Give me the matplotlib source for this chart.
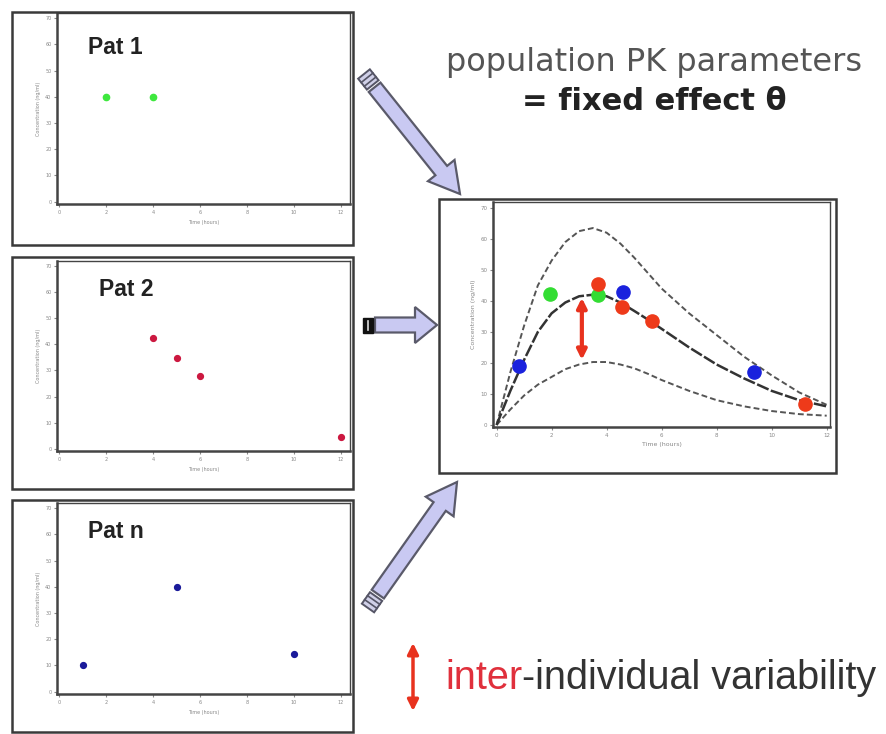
import matplotlib
matplotlib.use("Agg")
import matplotlib.pyplot as plt
from matplotlib.patches import Rectangle, FancyArrow, Polygon
import numpy as np

# ---------------- data ----------------
pat1_t = [2, 4]
pat1_c = [40, 40]
pat2_t = [4, 5, 6, 12]
pat2_c = [42.5, 34.6, 28, 4.5]
patn_t = [1, 5, 10]
patn_c = [10, 40, 14.4]

pop_green_t = [1.94, 3.67]
pop_green_c = [42.3, 42]
pop_red_t = [3.67, 4.55, 5.64, 11.2]
pop_red_c = [45.4, 38, 33.4, 6.8]
pop_blue_t = [0.8, 4.58, 9.37]
pop_blue_c = [19, 43, 17.2]

curve_t = [0, 0.5, 1, 1.5, 2, 2.5, 3, 3.5, 4, 4.5, 5, 5.5, 6, 7, 8, 9, 10, 11, 12]
curve_mean = [0, 11, 21, 30, 36, 39.5, 41.5, 42, 41.5, 39.5, 36.8, 34, 31, 25, 19.5, 15, 11, 8, 6]
curve_upper = [0, 17, 32, 45, 53, 59, 62.5, 63.5, 62, 58.5, 54, 49, 44, 36, 29, 22, 16, 10.5, 6.5]
curve_lower = [0, 5, 9.5, 13, 15.5, 18, 19.5, 20.3, 20.3, 19.5, 18.3, 16.5, 14.5, 11, 8, 6, 4.5, 3.5, 3]
iiv_t = 3.1
iiv_range = [41, 21]

x_ticks = [0, 2, 4, 6, 8, 10, 12]
y_ticks = [0, 10, 20, 30, 40, 50, 60, 70]
pat_titles = ["Pat 1", "Pat 2", "Pat n"]

# ---------------- figure ----------------
W, H = 886, 734
fig = plt.figure(figsize=(W / 100, H / 100), dpi=100)
fig.patch.set_facecolor("white")

ov = fig.add_axes([0, 0, 1, 1])
ov.set_xlim(0, W)
ov.set_ylim(H, 0)
ov.axis("off")
ov.set_zorder(10)


def ax_rect(x0, y0, x1, y1):
    return [x0 / W, 1 - y1 / H, (x1 - x0) / W, (y1 - y0) / H]


def frame(x0, y0, x1, y1):
    ov.add_patch(Rectangle((x0, y0), x1 - x0, y1 - y0, fill=False,
                           ec="#3a3a3a", lw=1.8))


def style_axes(ax, fs=3.5):
    for s in ax.spines.values():
        s.set_color("#444444")
        s.set_linewidth(1.0)
    ax.spines["left"].set_linewidth(1.8)
    ax.spines["bottom"].set_linewidth(1.8)
    ax.set_xticks(x_ticks)
    ax.set_yticks(y_ticks)
    ax.tick_params(labelsize=fs, colors="#888888", length=2, width=0.8,
                   direction="out", pad=2)


small_specs = [
    ((12, 12, 353, 245), (57, 13, 350, 204), pat1_t, pat1_c, "#3ee83e", 4.5, (88, 48)),
    ((12, 257, 353, 489), (57, 261, 350, 451), pat2_t, pat2_c, "#cc1840", 4.2, (99, 289)),
    ((12, 500, 353, 732), (57, 503, 350, 694), patn_t, patn_c, "#1a1a9a", 4.2, (88, 531)),
]

for (fr, axr, tt, cc, col, ms, tpos), title in zip(small_specs, pat_titles):
    frame(*fr)
    ax = fig.add_axes(ax_rect(*axr))
    ax.plot(tt, cc, "o", color=col, ms=ms, mec=col)
    ax.set_xlim(-0.1, 12.4)
    ax.set_ylim(-0.9, 72)
    style_axes(ax)
    ax.set_xlabel("Time (hours)", fontsize=3.5, color="#888888", labelpad=4)
    ax.set_ylabel("Concentration (ng/ml)", fontsize=3.5, color="#888888", labelpad=3)
    ov.text(tpos[0], tpos[1], title, fontsize=16.5, fontweight="bold",
            family="Liberation Sans", color="#222222", ha="left", va="center")

# main population panel
frame(439, 199, 836, 473)
axm = fig.add_axes(ax_rect(493, 202, 830, 427))
dash = (0, (3, 1.6))
axm.plot(curve_t, curve_upper, color="#555555", lw=1.4, ls=dash)
axm.plot(curve_t, curve_lower, color="#555555", lw=1.4, ls=dash)
axm.plot(curve_t, curve_mean, color="#333333", lw=1.8, ls=(0, (5, 1)))
axm.plot(pop_green_t, pop_green_c, "o", color="#33dd33", ms=9.5)
axm.plot(pop_red_t, pop_red_c, "o", color="#ee3a1a", ms=9.5)
axm.plot(pop_blue_t, pop_blue_c, "o", color="#1a22dd", ms=9.5)
axm.annotate("", xy=(iiv_t, iiv_range[0]), xytext=(iiv_t, iiv_range[1]),
             arrowprops=dict(arrowstyle="<|-|>", color="#e8321e", lw=3,
                             mutation_scale=14, shrinkA=0, shrinkB=0))
axm.set_xlim(-0.13, 12.12)
axm.set_ylim(-0.65, 71.9)
style_axes(axm, fs=4)
axm.set_xlabel("Time (hours)", fontsize=4.5, color="#888888", labelpad=3)
axm.set_ylabel("Concentration (ng/ml)", fontsize=4.5, color="#888888", labelpad=3)


# ---------------- arrows ----------------
def big_arrow(tail, tip, cap_len=14, gap=3, width=15, head_w=34, head_l=30, dark_cap=False):
    tail = np.array(tail, float)
    tip = np.array(tip, float)
    d = tip - tail
    L = np.hypot(*d)
    u = d / L
    n = np.array([-u[1], u[0]])
    start = tail + u * (cap_len + gap)
    ov.add_patch(FancyArrow(start[0], start[1], *(tip - start), width=width,
                            head_width=head_w, head_length=head_l,
                            length_includes_head=True, fc="#c9c9f2",
                            ec="#5a5a6a", lw=1.6, zorder=3))
    hw = width / 2
    pts = [tail + n * hw, tail + n * hw + u * cap_len,
           tail - n * hw + u * cap_len, tail - n * hw]
    if dark_cap:
        ov.add_patch(Polygon(pts, closed=True, fc="#111111", ec="#111111", lw=1, zorder=3))
        a = tail + u * cap_len * 0.55
        ov.plot([a[0] + n[0] * hw * 0.6, a[0] - n[0] * hw * 0.6],
                [a[1] + n[1] * hw * 0.6, a[1] - n[1] * hw * 0.6],
                color="#dddddd", lw=1.2, zorder=4)
    else:
        ov.add_patch(Polygon(pts, closed=True, fc="#d0d0e8", ec="#555566", lw=1.4, zorder=3))
        for f in (0.35, 0.7):
            a = tail + u * cap_len * f
            ov.plot([a[0] + n[0] * hw, a[0] - n[0] * hw],
                    [a[1] + n[1] * hw, a[1] - n[1] * hw],
                    color="#555566", lw=1.2, zorder=4)


big_arrow((364, 74), (460, 194))
big_arrow((363, 325), (437, 325), cap_len=10, gap=2, width=15, head_w=36, head_l=22, dark_cap=True)
big_arrow((368, 608), (457, 482))

# ---------------- texts ----------------
ov.text(654, 62, "population PK parameters", fontsize=23, color="#555555",
        family="DejaVu Sans", ha="center", va="center")
ov.text(654, 102, "= fixed effect θ", fontsize=22, color="#222222",
        family="DejaVu Sans", fontweight="bold", ha="center", va="center")

ov.annotate("", xy=(413, 643), xytext=(413, 711),
            arrowprops=dict(arrowstyle="<|-|>", color="#e8321e", lw=2.5,
                            mutation_scale=16, shrinkA=0, shrinkB=0))
t1 = ov.text(445, 678, "inter", fontsize=28.5, color="#e0303c",
             family="Liberation Sans", ha="left", va="center")
ov.annotate("-individual variability", xy=(1, 0), xycoords=t1,
            fontsize=28.5, color="#333333", family="Liberation Sans",
            ha="left", va="bottom")

fig.savefig("out.png", dpi=100, facecolor="white")
